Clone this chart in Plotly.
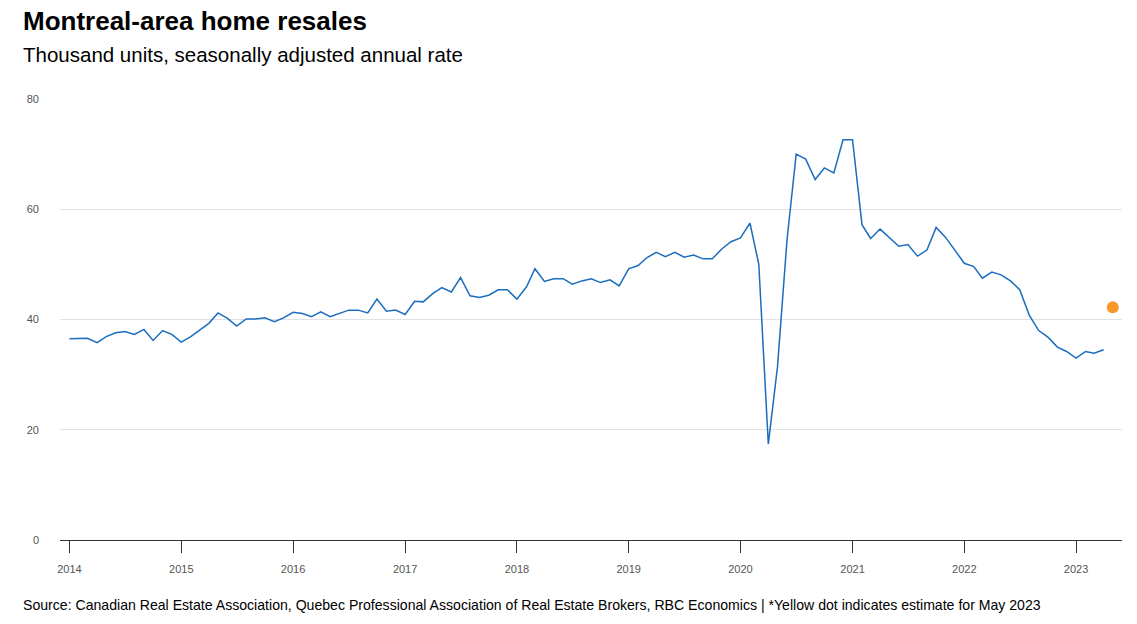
import plotly.graph_objects as go
import pandas as pd

months = pd.date_range("2014-01-01", "2023-04-01", freq="MS")
resales = [
    36.5, 36.6, 36.6, 35.8, 36.9, 37.6, 37.8, 37.3, 38.2, 36.2, 38.0, 37.3,
    35.9, 36.9, 38.0, 39.3, 41.2, 40.2, 38.8, 40.1, 40.1, 40.3, 39.6, 40.3,
    41.3, 41.1, 40.5, 41.4, 40.5, 41.1, 41.7, 41.7, 41.2, 43.7, 41.5, 41.7,
    40.9, 43.3, 43.2, 44.7, 45.8, 45.0, 47.6, 44.3, 44.0, 44.4, 45.4, 45.4,
    43.7, 45.9, 49.2, 46.9, 47.4, 47.4, 46.4, 47.0, 47.4, 46.7, 47.2, 46.1,
    49.2, 49.8, 51.2, 52.2, 51.4, 52.2, 51.3, 51.7, 51.0, 51.0, 52.8, 54.1,
    54.8, 57.5, 50.0, 17.4, 31.4, 54.4, 70.0, 69.1, 65.4, 67.5, 66.6, 72.6,
    72.6, 57.2, 54.7, 56.4, 54.9, 53.3, 53.6, 51.5, 52.6, 56.7, 54.9, 52.6,
    50.2, 49.6, 47.5, 48.6, 48.1, 47.0, 45.4, 40.8, 38.0, 36.8, 35.0, 34.2,
    33.0, 34.2, 33.9, 34.5,
]
estimate_month = ["2023-05-01"]
estimate_value = [42.2]

year_ticks = [f"{y}-01-01" for y in range(2014, 2024)]
year_labels = [str(y) for y in range(2014, 2024)]
y_ticks = [0, 20, 40, 60, 80]

title = "Montreal-area home resales"
subtitle = "Thousand units, seasonally adjusted annual rate"
source = ("Source: Canadian Real Estate Association, Quebec Professional Association of "
          "Real Estate Brokers, RBC Economics | *Yellow dot indicates estimate for May 2023")

FONT = "Liberation Sans, Arial, Helvetica, sans-serif"

fig = go.Figure()
fig.add_trace(go.Scatter(
    x=months, y=resales, mode="lines",
    line=dict(color="#1a6dbf", width=1.5),
    showlegend=False, hoverinfo="x+y",
))
fig.add_trace(go.Scatter(
    x=estimate_month, y=estimate_value, mode="markers",
    marker=dict(color="#f7972a", size=12),
    showlegend=False,
))

W_PLOT = 1062
H_PLOT = 441

fig.update_layout(
    width=1137, height=624,
    margin=dict(l=60, r=15, t=99, b=84),
    paper_bgcolor="white", plot_bgcolor="white",
    font=dict(family=FONT, color="#000"),
    xaxis=dict(
        type="date",
        range=["2013-12-01", "2023-05-31"],
        tickvals=year_ticks, ticktext=year_labels,
        ticks="outside", ticklen=12, tickwidth=1, tickcolor="#333",
        showline=True, linecolor="#333", linewidth=1,
        showgrid=False, zeroline=False,
        tickfont=dict(size=11, color="#555", family=FONT),
        ticklabelstandoff=7,
    ),
    yaxis=dict(
        range=[0, 80],
        tickvals=y_ticks,
        showgrid=True, gridcolor="#e2e2e2", gridwidth=1,
        zeroline=False, showline=False, ticks="",
        tickfont=dict(size=11, color="#555", family=FONT),
        ticklabelstandoff=20,
    ),
    annotations=[
        dict(text=f"<b>{title}</b>", xref="paper", yref="paper",
             x=-39 / W_PLOT, y=1 + 95 / H_PLOT, xanchor="left", yanchor="top",
             showarrow=False, font=dict(size=26, color="#000", family=FONT)),
        dict(text=subtitle, xref="paper", yref="paper",
             x=-39 / W_PLOT, y=1 + 58 / H_PLOT, xanchor="left", yanchor="top",
             showarrow=False, font=dict(size=20.5, color="#000", family=FONT)),
        dict(text=source, xref="paper", yref="paper",
             x=-39 / W_PLOT, y=-55 / H_PLOT, xanchor="left", yanchor="top",
             showarrow=False, font=dict(size=14.1, color="#000", family=FONT)),
    ],
)

fig.write_html("out.html")
